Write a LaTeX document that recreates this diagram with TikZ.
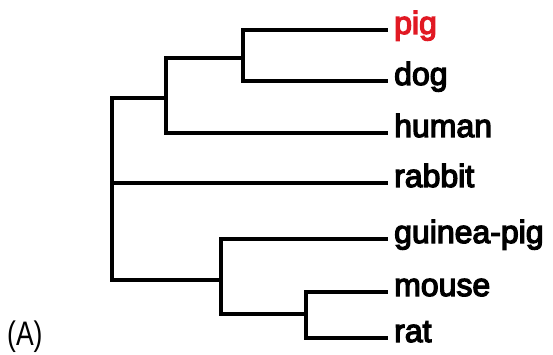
\documentclass[tikz,border=0pt]{standalone}
\usepackage{fontspec}
\setmainfont{Liberation Sans}
\newfontfamily\labfont{Liberation Sans}[FakeBold=4]
\newfontfamily\tagfont{Liberation Sans}[FakeStretch=0.78]
\definecolor{pigred}{RGB}{225,25,35}
\begin{document}
\begin{tikzpicture}[x=1pt,y=-1pt,
  branch/.style={line width=4.5pt, line join=miter, line cap=butt, black},
  leaf/.style={anchor=base west, inner xsep=6pt, inner ysep=0pt, font=\labfont\fontsize{32}{34}\selectfont, text=black},
  tag/.style={anchor=base west, inner sep=0pt, font=\tagfont\fontsize{34}{36}\selectfont}]
\useasboundingbox (0,0) rectangle (553,355);
% leaf end points
\coordinate (pigE) at (388,30);
\coordinate (dogE) at (388,81);
\coordinate (humanE) at (388,133);
\coordinate (rabbitE) at (388,183);
\coordinate (gpE) at (388,239);
\coordinate (mouseE) at (388,292);
\coordinate (ratE) at (388,338);
% internal nodes
\coordinate (r) at (112,183);
\coordinate (a) at (166,98);
\coordinate (b) at (243,58);
\coordinate (c) at (221,280);
\coordinate (d) at (306,314);
% labels
\node[leaf, text=pigred] (pig) at ([yshift=-4pt]pigE) {pig};
\node[leaf] (dog) at ([yshift=-4pt]dogE) {dog};
\node[leaf] (human) at ([yshift=-4pt]humanE) {human};
\node[leaf] (rabbit) at ([yshift=-4pt]rabbitE) {rabbit};
\node[leaf] (gp) at ([yshift=-4pt]gpE) {guinea-pig};
\node[leaf] (mouse) at ([yshift=-4pt]mouseE) {mouse};
\node[leaf] (rat) at ([yshift=-4pt]ratE) {rat};
\node[tag] (A) at (7,345) {(A)};
% branches
\draw[branch] (b) |- (pigE);
\draw[branch] (b) |- (dogE);
\draw[branch] (a) |- (b);
\draw[branch] (a) |- (humanE);
\draw[branch] (r) |- (a);
\draw[branch] (r) -- (rabbitE);
\draw[branch] (r) |- (c);
\draw[branch] (c) |- (gpE);
\draw[branch] (c) |- (d);
\draw[branch] (d) |- (mouseE);
\draw[branch] (d) |- (ratE);
\end{tikzpicture}
\end{document}
